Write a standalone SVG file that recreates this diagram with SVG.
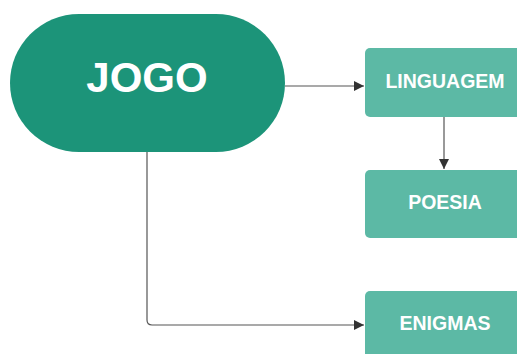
<svg xmlns="http://www.w3.org/2000/svg" width="517" height="354" viewBox="0 0 517 354">
<defs>
<style>
.box{fill:#5cb9a5;}
.lbl{font-family:"Liberation Sans",Arial,sans-serif;font-weight:bold;fill:#ffffff;text-anchor:middle;}
.edge{fill:none;stroke:#555555;stroke-width:1.2;}
</style>
<marker id="ah" viewBox="0 0 10 10" refX="10" refY="5" markerWidth="10" markerHeight="10" markerUnits="userSpaceOnUse" orient="auto">
<path d="M0,0 L10,5 L0,10 z" fill="#333333"/>
</marker>
</defs>
<rect width="517" height="354" fill="#ffffff"/>
<g id="connectors">
<path class="edge" d="M285,86 L364,86" marker-end="url(#ah)"/>
<path class="edge" d="M444,117 L444,169" marker-end="url(#ah)"/>
<path class="edge" d="M147,152 L147,320 Q147,325 152,325 L364,325" marker-end="url(#ah)"/>
</g>
<g id="jogo">
<rect x="10" y="14" width="275" height="138" rx="69" ry="69" fill="#1c9479"/>
<text class="lbl" x="147" y="92" font-size="42">JOGO</text>
</g>
<g id="linguagem">
<rect class="box" x="365" y="48" width="162" height="69" rx="5"/>
<text class="lbl" x="445" y="88" font-size="19.5">LINGUAGEM</text>
</g>
<g id="poesia">
<rect class="box" x="365" y="170" width="162" height="68" rx="5"/>
<text class="lbl" x="445" y="209" font-size="19.5">POESIA</text>
</g>
<g id="enigmas">
<rect class="box" x="365" y="291" width="162" height="69" rx="5"/>
<text class="lbl" x="445" y="330" font-size="19.5">ENIGMAS</text>
</g>
</svg>
